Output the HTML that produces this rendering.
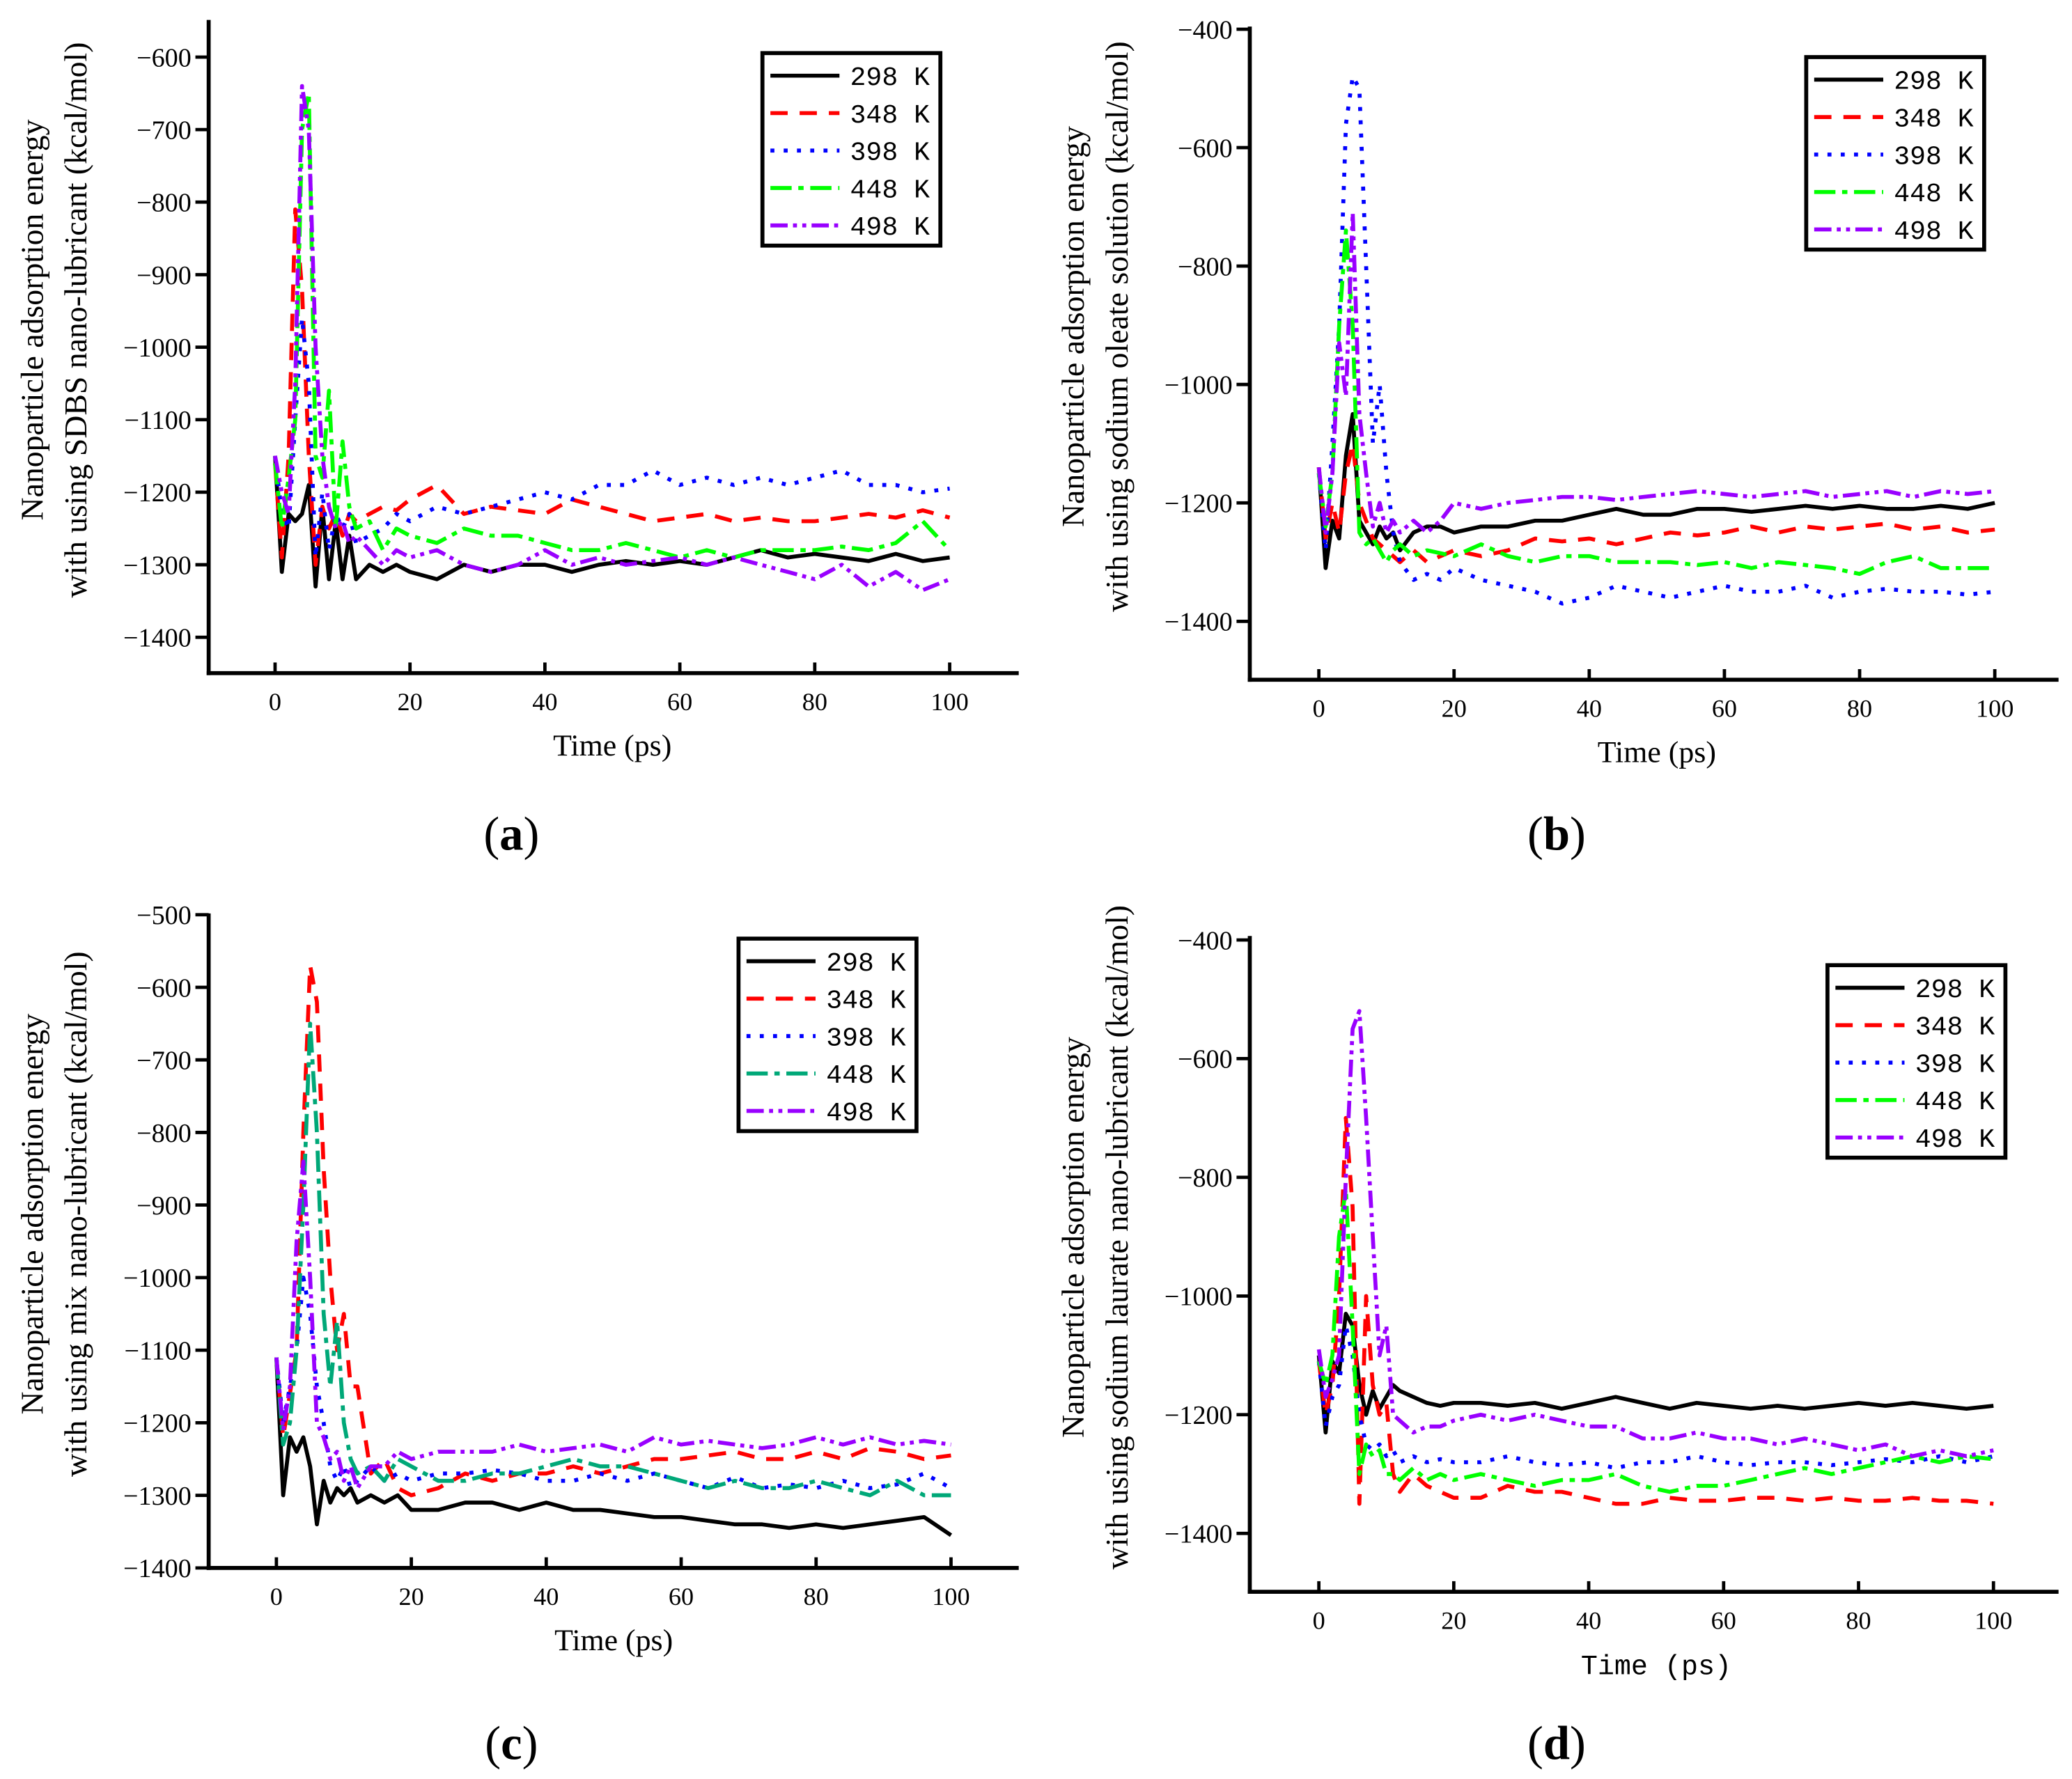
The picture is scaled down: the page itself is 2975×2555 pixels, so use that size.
<!DOCTYPE html>
<html><head><meta charset="utf-8"><style>
html,body{margin:0;padding:0;background:#fff;}
svg{display:block;}
text{font-family:"Liberation Serif","Noto Serif CJK SC",serif;fill:#000;}
</style></head><body>
<svg id="chart" xmlns="http://www.w3.org/2000/svg" width="2975" height="2555" viewBox="0 0 1560 1340"></svg>
<script>
const T=[0,1,2,3,4,5,6,7,8,9,10,11,12,14,16,18,20,24,28,32,36,40,44,48,52,56,60,64,68,72,76,80,84,88,92,96,100];
const seriesLabels=["298  K","348  K","398  K","448  K","498  K"];
const xTicks=[0,20,40,60,80,100];
const a298=[-1150,-1310,-1230,-1240,-1230,-1190,-1330,-1220,-1320,-1240,-1320,-1260,-1320,-1300,-1310,-1300,-1310,-1320,-1300,-1310,-1300,-1300,-1310,-1300,-1295,-1300,-1295,-1300,-1290,-1280,-1290,-1285,-1290,-1295,-1285,-1295,-1290];
const a348=[-1160,-1290,-1150,-810,-920,-1150,-1300,-1220,-1250,-1230,-1260,-1230,-1240,-1230,-1220,-1225,-1210,-1190,-1230,-1220,-1225,-1230,-1210,-1220,-1230,-1240,-1235,-1230,-1240,-1235,-1240,-1240,-1235,-1230,-1235,-1225,-1235];
const a398=[-1150,-1230,-1250,-1100,-960,-1050,-1290,-1200,-1280,-1230,-1250,-1230,-1270,-1260,-1250,-1230,-1240,-1220,-1230,-1220,-1210,-1200,-1210,-1190,-1190,-1170,-1190,-1180,-1190,-1180,-1190,-1180,-1170,-1190,-1190,-1200,-1195];
const a448=[-1160,-1250,-1180,-1100,-700,-650,-1150,-1180,-1060,-1250,-1130,-1220,-1250,-1240,-1280,-1250,-1260,-1270,-1250,-1260,-1260,-1270,-1280,-1280,-1270,-1280,-1290,-1280,-1290,-1280,-1280,-1280,-1275,-1280,-1270,-1240,-1280];
const a498=[-1150,-1200,-1230,-1050,-640,-700,-1000,-1150,-1220,-1250,-1240,-1270,-1260,-1280,-1300,-1280,-1290,-1280,-1300,-1310,-1300,-1280,-1300,-1290,-1300,-1295,-1290,-1300,-1290,-1300,-1310,-1320,-1300,-1330,-1310,-1335,-1320];
const b298=[-1140,-1310,-1230,-1260,-1120,-1050,-1230,-1250,-1270,-1240,-1260,-1250,-1280,-1250,-1240,-1240,-1250,-1240,-1240,-1230,-1230,-1220,-1210,-1220,-1220,-1210,-1210,-1215,-1210,-1205,-1210,-1205,-1210,-1210,-1205,-1210,-1200];
const b348=[-1140,-1260,-1200,-1250,-1150,-1100,-1200,-1230,-1260,-1270,-1280,-1290,-1300,-1280,-1300,-1290,-1280,-1290,-1280,-1260,-1265,-1260,-1270,-1260,-1250,-1255,-1250,-1240,-1250,-1240,-1245,-1240,-1235,-1245,-1240,-1250,-1245];
const b398=[-1150,-1280,-1100,-900,-560,-480,-500,-800,-1100,-1000,-1150,-1250,-1300,-1330,-1320,-1330,-1310,-1330,-1340,-1350,-1370,-1360,-1340,-1350,-1360,-1350,-1340,-1350,-1350,-1340,-1360,-1350,-1345,-1350,-1350,-1355,-1350];
const b448=[-1150,-1240,-1150,-900,-740,-900,-1250,-1270,-1260,-1280,-1300,-1280,-1270,-1290,-1280,-1285,-1290,-1270,-1290,-1300,-1290,-1290,-1300,-1300,-1300,-1305,-1300,-1310,-1300,-1305,-1310,-1320,-1300,-1290,-1310,-1310,-1310];
const b498=[-1140,-1250,-1150,-930,-1020,-710,-1050,-1150,-1240,-1200,-1250,-1230,-1250,-1230,-1250,-1230,-1200,-1210,-1200,-1195,-1190,-1190,-1195,-1190,-1185,-1180,-1185,-1190,-1185,-1180,-1190,-1185,-1180,-1190,-1180,-1185,-1180];
const c298=[-1110,-1300,-1220,-1240,-1220,-1260,-1340,-1280,-1310,-1290,-1300,-1290,-1310,-1300,-1310,-1300,-1320,-1320,-1310,-1310,-1320,-1310,-1320,-1320,-1325,-1330,-1330,-1335,-1340,-1340,-1345,-1340,-1345,-1340,-1335,-1330,-1355];
const c348=[-1110,-1220,-1160,-1100,-800,-570,-620,-850,-1000,-1100,-1050,-1150,-1150,-1270,-1250,-1290,-1300,-1290,-1270,-1280,-1270,-1270,-1260,-1270,-1260,-1250,-1250,-1245,-1240,-1250,-1250,-1240,-1250,-1235,-1240,-1250,-1245];
const c398=[-1110,-1200,-1150,-1100,-1000,-1050,-1150,-1200,-1260,-1280,-1260,-1290,-1280,-1260,-1280,-1270,-1280,-1270,-1270,-1265,-1270,-1280,-1280,-1270,-1280,-1270,-1280,-1290,-1275,-1290,-1285,-1290,-1280,-1290,-1285,-1270,-1290];
const c448=[-1110,-1230,-1200,-1100,-900,-650,-800,-1050,-1150,-1060,-1200,-1250,-1270,-1260,-1280,-1250,-1260,-1280,-1280,-1270,-1270,-1260,-1250,-1260,-1260,-1270,-1280,-1290,-1280,-1290,-1290,-1280,-1290,-1300,-1280,-1300,-1300];
const c498=[-1110,-1210,-1150,-950,-840,-1000,-1200,-1220,-1250,-1240,-1280,-1260,-1290,-1260,-1260,-1240,-1250,-1240,-1240,-1240,-1230,-1240,-1235,-1230,-1240,-1220,-1230,-1225,-1230,-1235,-1230,-1220,-1230,-1220,-1230,-1225,-1230];
const d298=[-1100,-1230,-1110,-1130,-1030,-1050,-1150,-1200,-1160,-1190,-1170,-1150,-1160,-1170,-1180,-1185,-1180,-1180,-1185,-1180,-1190,-1180,-1170,-1180,-1190,-1180,-1185,-1190,-1185,-1190,-1185,-1180,-1185,-1180,-1185,-1190,-1185];
const d348=[-1110,-1200,-1150,-1000,-700,-850,-1350,-1000,-1150,-1200,-1180,-1300,-1330,-1300,-1320,-1330,-1340,-1340,-1320,-1330,-1330,-1340,-1350,-1350,-1340,-1345,-1345,-1340,-1340,-1345,-1340,-1345,-1345,-1340,-1345,-1345,-1350];
const d398=[-1110,-1220,-1170,-1150,-1050,-1100,-1200,-1250,-1260,-1250,-1270,-1260,-1280,-1270,-1280,-1275,-1280,-1280,-1270,-1280,-1285,-1280,-1290,-1280,-1280,-1270,-1280,-1285,-1280,-1280,-1285,-1280,-1275,-1280,-1270,-1280,-1270];
const d448=[-1110,-1150,-1100,-900,-820,-1050,-1300,-1250,-1270,-1260,-1300,-1300,-1310,-1290,-1310,-1300,-1310,-1300,-1310,-1320,-1310,-1310,-1300,-1320,-1330,-1320,-1320,-1310,-1300,-1290,-1300,-1290,-1280,-1270,-1280,-1270,-1275];
const d498=[-1090,-1170,-1140,-1100,-800,-550,-520,-700,-900,-1100,-1050,-1200,-1210,-1230,-1220,-1220,-1210,-1200,-1210,-1200,-1210,-1220,-1220,-1240,-1240,-1230,-1240,-1240,-1250,-1240,-1250,-1260,-1250,-1270,-1260,-1270,-1260];

const NS="http://www.w3.org/2000/svg";
const svg=document.getElementById('chart');
function el(tag,attrs,parent){const e=document.createElementNS(NS,tag);for(const k in attrs)e.setAttribute(k,attrs[k]);(parent||svg).appendChild(e);return e;}
const dashes=["none","13 9","3 7","16 5 4 5","13 4 3 4 3 4"];
const MONO='font-family:"Liberation Mono",monospace';
const panels=[
 {id:'a',ax:157,top:15,bot:507,right:767,x0:207,x100:715,yA:-600,pA:43,yB:-1400,pB:480,yt:[-600,-700,-800,-900,-1000,-1100,-1200,-1300,-1400],lg:[574,40],lab:[385,628],t1:"Nanoparticle adsorption energy",t2:"with using SDBS nano-lubricant (kcal/mol)",s:[a298,a348,a398,a448,a498],g:"#00ff00",mono:false},
 {id:'b',ax:941,top:20,bot:512,right:1550,x0:993,x100:1502,yA:-400,pA:22,yB:-1400,pB:468,yt:[-400,-600,-800,-1000,-1200,-1400],lg:[1360,43],lab:[1172,628],t1:"Nanoparticle adsorption energy",t2:"with using sodium oleate solution (kcal/mol)",s:[b298,b348,b398,b448,b498],g:"#00ff00",mono:false},
 {id:'c',ax:157,top:688,bot:1181,right:767,x0:208,x100:716,yA:-500,pA:689,yB:-1400,pB:1181,yt:[-500,-600,-700,-800,-900,-1000,-1100,-1200,-1300,-1400],lg:[556,707],lab:[385,1313],t1:"Nanoparticle adsorption energy",t2:"with using mix nano-lubricant (kcal/mol)",s:[c298,c348,c398,c448,c498],g:"#00a878",mono:false},
 {id:'d',ax:941,top:705,bot:1199,right:1550,x0:993,x100:1501,yA:-400,pA:708,yB:-1400,pB:1155,yt:[-400,-600,-800,-1000,-1200,-1400],lg:[1376,727],lab:[1172,1313],t1:"Nanoparticle adsorption energy",t2:"with using sodium laurate nano-lubricant (kcal/mol)",s:[d298,d348,d398,d448,d498],g:"#00ff00",mono:true}
];
panels.forEach(p=>{
 const colors=["#000","#ff0000","#0000ff",p.g,"#9900ff"];
 const X=v=>p.x0+(v)*(p.x100-p.x0)/100;
 const Y=v=>p.pA+(v-p.yA)*(p.pB-p.pA)/(p.yB-p.yA);
 const g=el('g',{});
 
 
 p.s.forEach((arr,i)=>{
  const d=arr.map((v,j)=>(j?'L':'M')+X(T[j]).toFixed(1)+','+Y(v).toFixed(1)).join('');
  const path=el('path',{d:d,fill:'none',stroke:colors[i],'stroke-width':3,'stroke-linejoin':'round','stroke-dasharray':dashes[i]},g);
  
  
 });
 const ya=el('line',{x1:p.ax,y1:p.top,x2:p.ax,y2:p.bot+1.5,stroke:'#000','stroke-width':3},g);
 
 
 const xa=el('line',{x1:p.ax-1.5,y1:p.bot,x2:p.right,y2:p.bot,stroke:'#000','stroke-width':3},g);
 
 
 p.yt.forEach(v=>{
  el('line',{x1:p.ax-10,y1:Y(v),x2:p.ax,y2:Y(v),stroke:'#000','stroke-width':2.5},g);
  const t=el('text',{x:p.ax-13,y:Y(v)+7,'text-anchor':'end','font-size':20},g);
  t.textContent='\u2212'+Math.abs(v);
  
  
 });
 xTicks.forEach(v=>{
  el('line',{x1:X(v),y1:p.bot,x2:X(v),y2:p.bot-8,stroke:'#000','stroke-width':2.5},g);
  const t=el('text',{x:X(v),y:p.bot+28,'text-anchor':'middle','font-size':19},g);
  t.textContent=v;
  
  
 });
 const xt=el('text',{x:(p.x0+p.x100)/2,y:p.bot+62,'text-anchor':'middle','font-size':23},g);
 if(p.mono) xt.setAttribute('style',MONO+';font-size:21px');
 xt.textContent='Time (ps)';
 
 
 const cy=(p.top+p.bot)/2-20;
 const yt=el('text',{'text-anchor':'middle','font-size':24,transform:'translate('+(p.ax-125)+','+cy+') rotate(-90)'},g);
 const s1=el('tspan',{x:0,y:0},yt); s1.textContent=p.t1;
 const s2=el('tspan',{x:0,y:33},yt); s2.textContent=p.t2;
 
 
 const lg=el('g',{},g);
 
 
 const [lx,ly]=p.lg;
 el('rect',{x:lx,y:ly,width:134,height:145,fill:'#fff',stroke:'#000','stroke-width':3},lg);
 seriesLabels.forEach((lab,i)=>{
  const yy=ly+17+i*28.2;
  el('line',{x1:lx+6,y1:yy,x2:lx+58,y2:yy,stroke:colors[i],'stroke-width':3,'stroke-dasharray':dashes[i]},lg);
  const t=el('text',{x:lx+66,y:yy+7,style:MONO+';font-size:20px'},lg);
  t.textContent=lab.replace('  ',' ');
  
  
 });
 const pl=el('text',{x:p.lab[0],y:p.lab[1]+12,'text-anchor':'middle','font-size':36},g);
 pl.innerHTML='(<tspan font-weight="bold">'+p.id+'</tspan>)';
 
 
});
</script>
</body></html>
